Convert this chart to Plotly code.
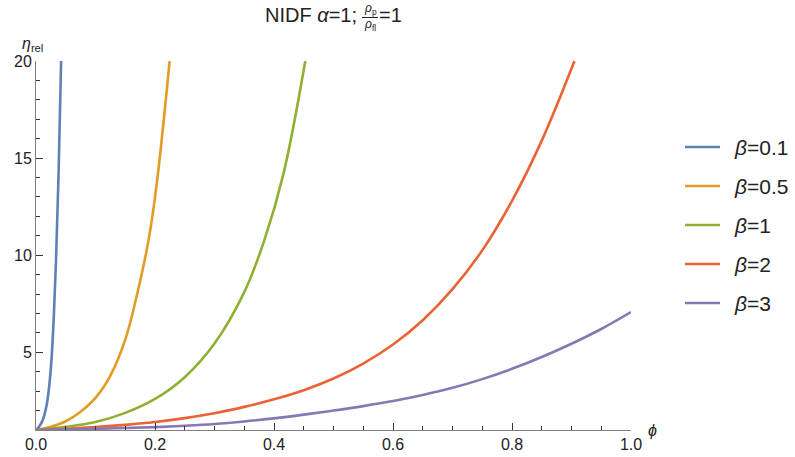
import plotly.graph_objects as go

# ---- data ----
labels = ["β=0.1", "β=0.5", "β=1", "β=2", "β=3"]
colors = ["#5E81B5", "#E19C24", "#8FB032", "#EB6235", "#8778B3"]

phi_b01 = [0, 0.004, 0.007, 0.010, 0.014, 0.018, 0.0218, 0.0262, 0.030, 0.0336, 0.038, 0.0422]
eta_b01 = [1, 1.12, 1.26, 1.42, 1.77, 2.3, 3.15, 4.7, 6.9, 9.7, 14.3, 20]

phi_b05 = [0, 0.025, 0.05, 0.075, 0.1, 0.125, 0.15, 0.17, 0.189, 0.203, 0.2246]
eta_b05 = [1, 1.17, 1.45, 1.94, 2.65, 3.8, 5.65, 8.0, 10.75, 13.7, 20]

phi_b1 = [0, 0.05, 0.1, 0.15, 0.2, 0.25, 0.3, 0.35, 0.383, 0.416, 0.4526]
eta_b1 = [1, 1.16, 1.41, 1.88, 2.6, 3.72, 5.45, 8.1, 10.7, 14.2, 20]

phi_b2 = [0, 0.05, 0.1, 0.15, 0.2, 0.25, 0.3, 0.35, 0.4, 0.45, 0.5, 0.55, 0.6, 0.65, 0.7, 0.75, 0.8, 0.85, 0.905]
eta_b2 = [1, 1.067, 1.153, 1.265, 1.41, 1.61, 1.86, 2.19, 2.58, 3.05, 3.65, 4.42, 5.4, 6.65, 8.25, 10.25, 12.8, 15.9, 20]

phi_b3 = [0, 0.1, 0.2, 0.25, 0.3, 0.35, 0.4, 0.45, 0.5, 0.55, 0.6, 0.65, 0.7, 0.75, 0.8, 0.85, 0.9, 0.95, 1.0]
eta_b3 = [1, 1.06, 1.15, 1.22, 1.31, 1.44, 1.6, 1.79, 2.0, 2.23, 2.49, 2.80, 3.17, 3.62, 4.15, 4.76, 5.44, 6.2, 7.07]

x_ticks = [0, 0.2, 0.4, 0.6, 0.8, 1.0]
y_ticks = [5, 10, 15, 20]

series = [(phi_b01, eta_b01), (phi_b05, eta_b05), (phi_b1, eta_b1), (phi_b2, eta_b2), (phi_b3, eta_b3)]

FONT = "Liberation Sans, Arial, sans-serif"

fig = go.Figure()
for i, ((xs, ys), lab, col) in enumerate(zip(series, labels, colors)):
    fig.add_trace(go.Scatter(x=xs, y=ys, mode="lines", name=lab, showlegend=False,
                             line=dict(color=col, width=2.6, shape="spline", smoothing=1.0),
                             hoverinfo="skip"))

W, H = 795, 457
L, R, T, B = 36, 164, 61, 27
pw, ph = W - L - R, H - T - B

def px(x):  # page pixel -> paper x
    return (x - L) / pw

def py(y):  # page pixel -> paper y
    return (H - B - y) / ph

axis_common = dict(showgrid=False, zeroline=False, showline=True, linecolor="#808080",
                   linewidth=1, ticks="inside", tickcolor="#333333", ticklen=7,
                   automargin=False,
                   tickfont=dict(family=FONT, size=16, color="#222"))

fig.update_layout(
    width=W, height=H,
    margin=dict(l=L, r=R, t=T, b=B, pad=0),
    paper_bgcolor="white", plot_bgcolor="white",
    showlegend=False,
    xaxis=dict(range=[0, 1], tickvals=x_ticks, ticktext=[f"{v:.1f}" for v in x_ticks],
               minor=dict(dtick=0.05, ticks="inside", ticklen=4, tickcolor="#333333"),
               **axis_common),
    yaxis=dict(range=[1, 20], tickvals=y_ticks, ticktext=[str(v) for v in y_ticks],
               minor=dict(tick0=0, dtick=1, ticks="inside", ticklen=4, tickcolor="#333333"),
               **axis_common),
)

ann = []
# title
ann.append(dict(x=px(359), y=py(15), xref="paper", yref="paper", xanchor="right", yanchor="middle",
                text="NIDF <i>α</i>=1;", showarrow=False, font=dict(family=FONT, size=20, color="#222")))
ann.append(dict(x=px(370), y=py(9), xref="paper", yref="paper", xanchor="center", yanchor="middle",
                text="<i>ρ</i><sub>p</sub>", showarrow=False, font=dict(family=FONT, size=12, color="#222")))
ann.append(dict(x=px(370), y=py(25), xref="paper", yref="paper", xanchor="center", yanchor="middle",
                text="<i>ρ</i><sub>fl</sub>", showarrow=False, font=dict(family=FONT, size=12, color="#222")))
ann.append(dict(x=px(377), y=py(15), xref="paper", yref="paper", xanchor="left", yanchor="middle",
                text="=1", showarrow=False, font=dict(family=FONT, size=20, color="#222")))
# axis labels
ann.append(dict(x=px(20), y=py(44), xref="paper", yref="paper", xanchor="left", yanchor="middle",
                text="<i>η</i><sub>rel</sub>", showarrow=False, font=dict(family=FONT, size=16, color="#222")))
ann.append(dict(x=px(646), y=py(430), xref="paper", yref="paper", xanchor="left", yanchor="middle",
                text="<i>ϕ</i>", showarrow=False, font=dict(family=FONT, size=16, color="#222")))

# legend (drawn at the reference's legend position)
leg_y0, leg_dy = 147, 39
for i, (lab, col) in enumerate(zip(labels, colors)):
    yc = leg_y0 + i * leg_dy
    fig.add_shape(type="line", xref="paper", yref="paper", x0=px(685), x1=px(720),
                  y0=py(yc), y1=py(yc), line=dict(color=col, width=2.6))
    sym, val = lab.split("=")
    ann.append(dict(x=px(732), y=py(yc), xref="paper", yref="paper", xanchor="left", yanchor="middle",
                    text=f"<i>{sym}</i>={val}", showarrow=False,
                    font=dict(family=FONT, size=21, color="#222")))

fig.update_layout(annotations=ann)

fig.add_shape(type="line", xref="paper", yref="paper", x0=px(362), x1=px(378), y0=py(17.5), y1=py(17.5),
              line=dict(color="#222", width=1))

fig.write_html("out.html", config={"displayModeBar": False},
               post_script="document.body.style.margin='0px';document.body.style.overflow='hidden';")
